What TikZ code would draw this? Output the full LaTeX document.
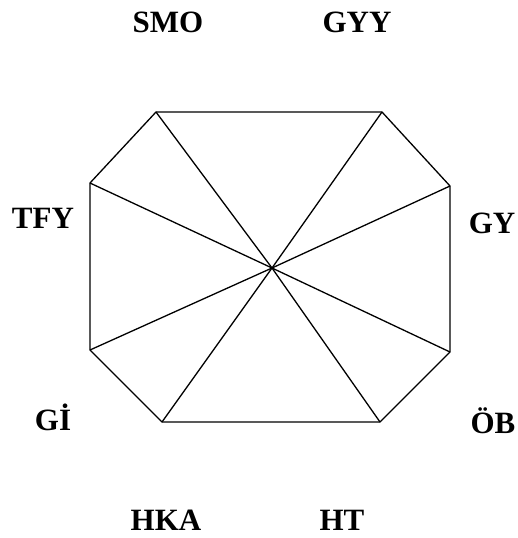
\documentclass[tikz,border=0pt]{standalone}
\usepackage{fontspec}
\setmainfont{Liberation Serif}
\begin{document}
\begin{tikzpicture}[x=1pt,y=-1pt,
  lbl/.style={anchor=base,inner sep=0pt,font=\fontsize{31}{36}\selectfont\bfseries},
  edge/.style={line width=1.3pt,line join=round}]
\useasboundingbox (0,0) rectangle (517,538);
\coordinate (A) at (156,112);
\coordinate (B) at (382,112);
\coordinate (C) at (450,186);
\coordinate (D) at (450,352);
\coordinate (E) at (380,422);
\coordinate (F) at (162,422);
\coordinate (G) at (90,350);
\coordinate (H) at (90,183);
\coordinate (O) at (272,268);
\draw[edge] (A) -- (B) -- (C) -- (D) -- (E) -- (F) -- (G) -- (H) -- cycle;
\draw[edge] (A) -- (O) -- (E);
\draw[edge] (B) -- (O) -- (F);
\draw[edge] (H) -- (O) -- (D);
\draw[edge] (C) -- (O) -- (G);
\node[lbl] (smo) at (168,32) {SMO};
\node[lbl] (gyy) at (357,32) {GYY};
\node[lbl] (tfy) at (43,228) {TFY};
\node[lbl] (gy) at (492,233) {GY};
\node[lbl] (gi) at (53,430) {Gİ};
\node[lbl] (ob) at (493,433) {ÖB};
\node[lbl] (hka) at (166,530) {HKA};
\node[lbl] (ht) at (342,530) {HT};
\end{tikzpicture}
\end{document}
